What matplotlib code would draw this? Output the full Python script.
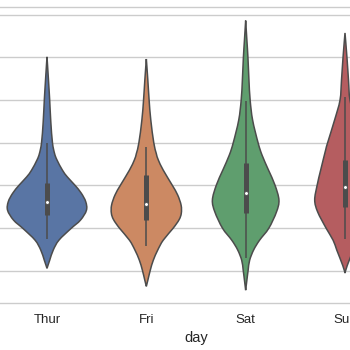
import colorsys
import numpy as np
import matplotlib
matplotlib.use("Agg")
import matplotlib.pyplot as plt
import matplotlib.colors as mcolors
from matplotlib.path import Path
from matplotlib.patches import PathPatch

# ---- data ----
days = ["Thur", "Fri", "Sat", "Sun"]

# violin outlines: total_bill levels and half-widths (in category units)
thur_y = [50.1, 45.0, 40.0, 35.0, 30.0, 27.5, 26.0, 23.6, 22.0, 20.1, 18.2, 16.2, 14.2, 11.9, 9.9, 7.2, 4.9, 2.5, 0.6]
thur_w = [0.0, 0.014, 0.027, 0.038, 0.055, 0.076, 0.10, 0.155, 0.205, 0.28, 0.345, 0.39, 0.397, 0.337, 0.24, 0.12, 0.063, 0.027, 0.0]

fri_y = [49.6, 44.7, 40.0, 35.3, 30.0, 27.5, 26.0, 23.6, 20.1, 17.8, 15.4, 13.5, 12.0, 10.0, 7.2, 4.9, 2.5, 0.2, -2.2, -3.6]
fri_w = [0.0, 0.015, 0.028, 0.045, 0.075, 0.10, 0.12, 0.17, 0.26, 0.315, 0.35, 0.352, 0.33, 0.27, 0.17, 0.115, 0.07, 0.04, 0.015, 0.0]

sat_y = [58.6, 54.1, 49.9, 44.7, 40.0, 35.3, 30.0, 27.1, 23.6, 20.1, 16.6, 13.8, 10.0, 7.2, 4.9, 2.5, 0.2, -2.2, -4.5]
sat_w = [0.0, 0.012, 0.023, 0.033, 0.045, 0.07, 0.125, 0.165, 0.23, 0.295, 0.335, 0.31, 0.233, 0.14, 0.08, 0.04, 0.025, 0.012, 0.0]

sun_y = [55.7, 49.9, 44.7, 40.0, 35.3, 30.0, 28.3, 23.6, 20.1, 16.6, 13.8, 10.0, 7.2, 4.9, 1.3, -0.5]
sun_w = [0.0, 0.02, 0.035, 0.05, 0.105, 0.175, 0.195, 0.245, 0.28, 0.305, 0.275, 0.19, 0.12, 0.083, 0.023, 0.0]

# inner box statistics
q1 = [13.0, 11.9, 13.6, 14.9]
medians = [16.2, 15.6, 18.3, 19.6]
q3 = [20.6, 22.4, 25.3, 26.0]
whisker_lo = [7.4, 5.8, 3.07, 7.4]
whisker_hi = [29.9, 29.1, 39.8, 40.6]

yticks = [0, 10, 20, 30, 40, 50, 60]

# ---- style ----
def desaturate(hexcol, prop):
    r, g, b = mcolors.to_rgb(hexcol)
    h, l, s = colorsys.rgb_to_hls(r, g, b)
    return colorsys.hls_to_rgb(h, l, s * prop)

base = ["#4C72B0", "#DD8452", "#55A868", "#C44E52"]
colors = [desaturate(c, 0.75) for c in base]
lum = min(colorsys.rgb_to_hls(*c)[1] for c in colors) * 0.6
gray = (lum, lum, lum)

plt.rcParams["font.family"] = ["Liberation Sans", "DejaVu Sans"]


def smooth_side(pts):
    """Cubic Bezier (Catmull-Rom style) path segments through the given outline points."""
    pts = np.asarray(pts, float)
    n = len(pts)
    verts, codes = [], []
    for i in range(n - 1):
        p0 = pts[i - 1] if i > 0 else pts[i]
        p1, p2 = pts[i], pts[i + 1]
        p3 = pts[i + 2] if i + 2 < n else pts[i + 1]
        c1 = p1 + (p2 - p0) / 6.0
        c2 = p2 - (p3 - p1) / 6.0
        verts += [tuple(c1), tuple(c2), tuple(p2)]
        codes += [Path.CURVE4] * 3
    return verts, codes


fig = plt.figure(figsize=(3.5, 3.5), dpi=100)
W = H = 350.0
left_px, right_px = 47 - 0.5 * 99.33, 345 + 0.5 * 99.33
top_px, bot_px = 6.7, 303.3
ax = fig.add_axes([left_px / W, (H - bot_px) / H, (right_px - left_px) / W, (bot_px - top_px) / H])

ys = [thur_y, fri_y, sat_y, sun_y]
ws = [thur_w, fri_w, sat_w, sun_w]
positions = np.arange(len(days))

for pos, y, w, c in zip(positions, ys, ws, colors):
    y = np.asarray(y)[::-1]   # bottom -> top
    w = np.asarray(w)[::-1]
    right = np.column_stack([pos + w, y])
    left = np.column_stack([pos - w, y])[::-1]  # top -> bottom
    v1, c1 = smooth_side(right)
    v2, c2 = smooth_side(left)
    verts = [tuple(right[0])] + v1 + v2 + [tuple(right[0])]
    codes = [Path.MOVETO] + c1 + c2 + [Path.CLOSEPOLY]
    patch = PathPatch(Path(verts, codes), facecolor=c, edgecolor=gray,
                      linewidth=1.1, zorder=2)
    ax.add_patch(patch)

for i in range(len(days)):
    ax.plot([positions[i]] * 2, [whisker_lo[i], whisker_hi[i]], color=gray, lw=1.1,
            solid_capstyle="butt", zorder=3)
    ax.plot([positions[i]] * 2, [q1[i], q3[i]], color=gray, lw=3.6,
            solid_capstyle="butt", zorder=3)
ax.scatter(positions, medians, s=(1.1 * 2) ** 2 * 1.6, color="white",
           edgecolor=gray, linewidth=0.6, zorder=4)

ax.set_xlim(-0.5, 3.5)
ax.set_ylim(-7.57, 61.84)
ax.set_xticks(positions)
ax.set_xticklabels(days)
ax.set_yticks(yticks)
ax.set_yticklabels([])
ax.tick_params(length=0, pad=7.5, labelsize=9.5, colors="#262626")
ax.grid(axis="y", color="#cccccc", lw=1.0)
ax.set_axisbelow(True)
for s in ax.spines.values():
    s.set_color("#cccccc")
    s.set_linewidth(1.0)
ax.set_xlabel("day", fontsize=10.5, color="#262626", labelpad=4)
ax.set_ylabel("total_bill")

fig.savefig("out.png", dpi=100)
